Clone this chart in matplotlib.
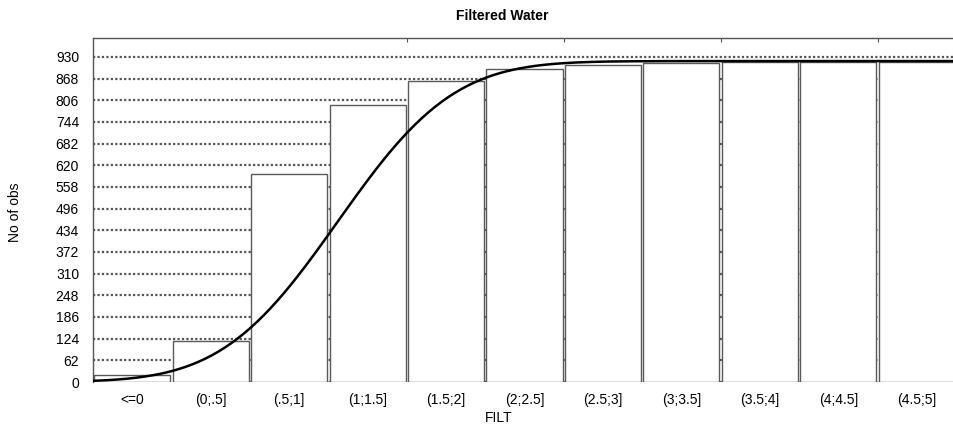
import math
import matplotlib
matplotlib.use("Agg")
import matplotlib.pyplot as plt
import numpy as np

plt.rcParams['font.family'] = ['Liberation Sans', 'DejaVu Sans']

# cumulative counts per FILT class
labels = ["<=0", "(0;.5]", "(.5;1]", "(1;1.5]", "(1.5;2]", "(2;2.5]",
          "(2.5;3]", "(3;3.5]", "(3.5;4]", "(4;4.5]", "(4.5;5]"]
counts = [20, 117, 596, 792, 860, 894, 906, 912, 914, 915, 915]

# expected normal (cumulative) fit
fit_mean = 1.06
fit_sd = 0.58
fit_n = 918

yticks = list(range(0, 931, 62))

fig = plt.figure(figsize=(9.54, 4.26), dpi=100)
ax = fig.add_axes([93 / 954, 44 / 426, 863 / 954, 344 / 426])

x = np.arange(len(labels))

# dotted horizontal grid behind the bars
for t in yticks:
    ax.axhline(t, color="#555555", lw=1.6, ls=(0, (1, 1)), zorder=1)

ax.bar(x, counts, width=0.97, color="white", edgecolor="#5a5a5a",
       linewidth=1.0, zorder=2)

# class edges: "<=0" spans (-0.5, 0], each class is 0.5 wide
xv = np.linspace(-0.5, 5.0, 400)
cdf = np.array([0.5 * (1 + math.erf((v - fit_mean) / (fit_sd * math.sqrt(2)))) for v in xv])
ax.plot(0.5 + xv * 2, cdf * fit_n, color="black", lw=1.8, zorder=3)

ax.set_xlim(-0.5, 10.5)
ax.set_ylim(0, 984)
ax.set_yticks(yticks)
ax.set_xticks(x)
ax.set_xticklabels(labels)
ax.tick_params(axis="both", length=0, labelsize=10)
ax.tick_params(axis="y", pad=10)
ax.tick_params(axis="x", pad=8)

for s in ["left", "top", "right"]:
    ax.spines[s].set_color("#555555")
    ax.spines[s].set_linewidth(1.0)
ax.spines["bottom"].set_visible(False)

# small marks on the top frame
top = ax.twiny()
top.set_xlim(ax.get_xlim())
top.set_xticks([3.5, 5.5, 7.5, 9.5])
top.set_xticklabels([])
top.tick_params(axis="x", direction="in", length=3, color="#555555")
for s in top.spines.values():
    s.set_visible(False)

fig.text(502 / 954, 1 - 16 / 426, "Filtered Water", ha="center", va="center",
         fontsize=10, fontweight="bold")
fig.text(499 / 954, 1 - 418 / 426, "FILT", ha="center", va="center", fontsize=10)
fig.text(15 / 954, 1 - 212 / 426, "No of obs", ha="center", va="center",
         fontsize=10, rotation=90)

fig.savefig("out.png", dpi=100)
